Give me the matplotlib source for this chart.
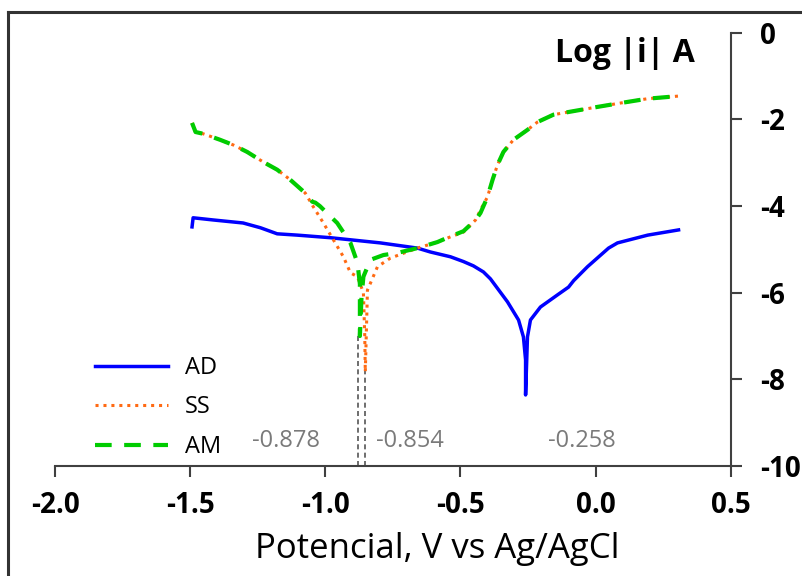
import numpy as np
import matplotlib
matplotlib.use("Agg")
import matplotlib.pyplot as plt
from matplotlib.lines import Line2D

plt.rcParams['font.family'] = ['Open Sans', 'DejaVu Sans']
plt.rcParams['axes.unicode_minus'] = False

# AD curve (potential V, log|i|)
ad_x = [-1.493, -1.489, -1.415, -1.304, -1.24, -1.178, -1.104, -0.981, -0.796, -0.659,
        -0.611, -0.537, -0.489, -0.452, -0.415, -0.389, -0.326, -0.285, -0.267, -0.259,
        -0.259, -0.252, -0.241, -0.204, -0.141, -0.10, -0.081, -0.03, 0.048, 0.081,
        0.193, 0.307]
ad_y = [-4.48, -4.27, -4.32, -4.39, -4.50, -4.64, -4.67, -4.73, -4.85, -4.97,
        -5.06, -5.17, -5.28, -5.38, -5.52, -5.68, -6.21, -6.63, -7.02, -7.55,
        -8.36, -7.02, -6.63, -6.33, -6.05, -5.87, -5.72, -5.40, -4.97, -4.85,
        -4.67, -4.55]

# SS curve
ss_x = [-1.493, -1.48, -1.452, -1.389, -1.34, -1.289, -1.23, -1.178, -1.13, -1.074,
        -1.044, -1.007, -0.97, -0.933, -0.907, -0.881, -0.859, -0.854, -0.852, -0.844,
        -0.807, -0.759, -0.659, -0.585, -0.537, -0.489, -0.444, -0.426, -0.40, -0.381,
        -0.363, -0.341, -0.304, -0.252, -0.215, -0.156, -0.093, 0.007, 0.093, 0.193, 0.307]
ss_y = [-2.08, -2.29, -2.33, -2.47, -2.59, -2.75, -2.98, -3.16, -3.39, -3.70,
        -4.02, -4.39, -4.78, -5.17, -5.54, -5.63, -6.00, -7.00, -7.83, -5.94,
        -5.40, -5.20, -4.97, -4.83, -4.71, -4.60, -4.32, -4.09, -3.79, -3.39,
        -3.05, -2.75, -2.47, -2.24, -2.06, -1.89, -1.82, -1.71, -1.62, -1.52, -1.46]

# AM curve
am_x = [-1.493, -1.48, -1.452, -1.389, -1.34, -1.289, -1.23, -1.178, -1.13, -1.074,
        -1.048, -1.037, -1.02, -0.956, -0.907, -0.881, -0.872, -0.872, -0.866, -0.859,
        -0.833, -0.785, -0.733, -0.659, -0.585, -0.537, -0.489, -0.444, -0.426, -0.40,
        -0.381, -0.363, -0.341, -0.304, -0.252, -0.215, -0.156, -0.093, 0.007, 0.093,
        0.193, 0.307]
am_y = [-2.08, -2.29, -2.33, -2.47, -2.59, -2.75, -2.98, -3.16, -3.39, -3.70,
        -3.90, -3.92, -4.00, -4.39, -4.85, -5.31, -5.80, -7.00, -6.10, -5.63,
        -5.24, -5.13, -5.08, -4.97, -4.83, -4.70, -4.58, -4.32, -4.16, -3.79,
        -3.39, -3.05, -2.75, -2.47, -2.24, -2.06, -1.89, -1.82, -1.71, -1.62,
        -1.52, -1.46]

ecorr = [-0.878, -0.854]
ecorr_line_top = [-7.0, -7.8]
ecorr_labels = ['-0.878', '-0.854', '-0.258']
ecorr_label_x = [-1.144, -0.685, -0.052]

fig = plt.figure(figsize=(8.03, 5.76), dpi=100)
ax = fig.add_axes([0.0685, 0.191, 0.8415, 0.752])

ax.plot(ad_x, ad_y, color='#0000ff', lw=2.5, label='AD')
ax.plot(ss_x, ss_y, color='#ff6a13', lw=2.2, linestyle=(0, (1, 1.6)), label='SS')
ax.plot(am_x, am_y, color='#00cc00', lw=3, linestyle=(0, (4, 3)), label='AM')

for xv, top in zip(ecorr, ecorr_line_top):
    ax.plot([xv, xv], [-10, top], color='#555555', lw=1.2, linestyle=(0, (3, 2)), zorder=1)

for lab, xv in zip(ecorr_labels, ecorr_label_x):
    ax.text(xv, -9.42, lab, color='#7a7a7a', fontsize=17, ha='center', va='center')

ax.set_xlim(-2.0, 0.5)
ax.set_ylim(-10, 0)
ax.set_xticks([-2.0, -1.5, -1.0, -0.5, 0.0, 0.5])
ax.set_xticklabels(['-2.0', '-1.5', '-1.0', '-0.5', '0.0', '0.5'])
ax.set_yticks([0, -2, -4, -6, -8, -10])
ax.yaxis.tick_right()
ax.spines['left'].set_visible(False)
ax.spines['top'].set_visible(False)
for s in ['bottom', 'right']:
    ax.spines[s].set_color('#404040')
    ax.spines[s].set_linewidth(1.5)
ax.tick_params(axis='both', direction='out', length=8, width=1.5, color='#404040',
               labelsize=20)
ax.tick_params(axis='x', pad=10)
ax.tick_params(axis='y', pad=13)
for t in ax.get_xticklabels() + ax.get_yticklabels():
    t.set_fontweight('bold')

ax.text(0.947, 0.99, 'Log |i| A', transform=ax.transAxes, fontsize=23,
        fontweight='bold', ha='right', va='top')
fig.text(0.544, 0.047, 'Potencial, V vs Ag/AgCl', fontsize=25, ha='center', va='center')

ax.legend(loc='lower left', bbox_to_anchor=(0.059, 0.016), frameon=False, fontsize=17,
          handlelength=3.1, labelspacing=0.66, handletextpad=0.7,
          borderpad=0, borderaxespad=0)

# outer frame (left and top edges visible)
fig.add_artist(Line2D([0.0105, 0.0105], [0, 0.979], color='#333333', lw=2.2))
fig.add_artist(Line2D([0.0105, 1.0], [0.979, 0.979], color='#333333', lw=2.2))

fig.savefig('out.png', dpi=100)
